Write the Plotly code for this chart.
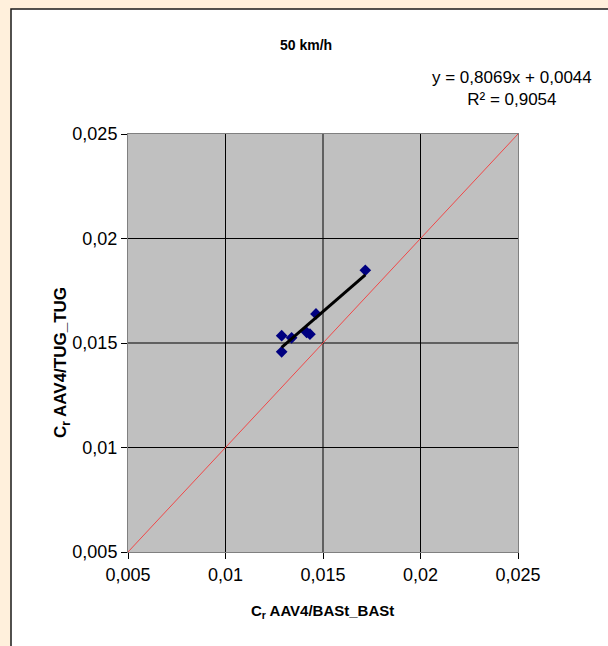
import plotly.graph_objects as go

# Rolling resistance coefficients at 50 km/h
cr_bast = [0.01288, 0.01288, 0.01339, 0.01416, 0.01433, 0.01464, 0.01717]
cr_tug = [0.01535, 0.01458, 0.01525, 0.01551, 0.01542, 0.01639, 0.01848]

# Linear fit reported for the series
slope = 0.8069
intercept = 0.0044
r_squared = 0.9054

# Axis ticks (decimal comma)
tick_vals = [0.005, 0.01, 0.015, 0.02, 0.025]
tick_text = ["0,005", "0,01", "0,015", "0,02", "0,025"]
axis_range = [0.005, 0.025]

W, H = 608, 646
L, R, T, B = 128, 90, 134, 94
PW, PH = W - L - R, H - T - B


def xp(px):
    return (px - L) / PW


def yp(py):
    return (H - B - py) / PH


fit_x = [min(cr_bast), max(cr_bast)]
fit_y = [slope * v + intercept for v in fit_x]

fig = go.Figure()

# 1:1 reference line
fig.add_trace(go.Scatter(
    x=axis_range, y=axis_range, mode="lines",
    line=dict(color="#F04848", width=1), hoverinfo="skip", showlegend=False,
))

fig.add_trace(go.Scatter(
    x=cr_bast, y=cr_tug, mode="markers",
    marker=dict(symbol="diamond", size=9, color="#000080"),
    showlegend=False,
))

fig.add_trace(go.Scatter(
    x=fit_x, y=fit_y, mode="lines",
    line=dict(color="black", width=3), showlegend=False,
))

font = "Liberation Sans, Arial"

axis_common = dict(
    range=axis_range, tickvals=tick_vals, ticktext=tick_text,
    showgrid=False,
    showline=True, linecolor="#808080", linewidth=1, mirror=True,
    ticks="outside", ticklen=6, tickcolor="black", tickwidth=1,
    zeroline=False,
    tickfont=dict(family=font, size=18, color="black"),
)

fig.update_xaxes(**axis_common)
fig.update_yaxes(**axis_common)

shapes = [
    # white chart panel with dark frame
    dict(type="rect", xref="paper", yref="paper", layer="below",
         x0=xp(11), x1=xp(W + 5), y0=yp(H + 5), y1=yp(9),
         fillcolor="white", line=dict(color="#1a1a1a", width=1.5)),
    # grey plot area
    dict(type="rect", xref="paper", yref="paper", layer="below",
         x0=0, x1=1, y0=0, y1=1,
         fillcolor="#C0C0C0", line=dict(width=0)),
]
# black interior gridlines (edges keep the grey frame)
for v in tick_vals[1:-1]:
    shapes.append(dict(type="line", xref="x", yref="paper", layer="below",
                       x0=v, x1=v, y0=0, y1=1,
                       line=dict(color="black", width=1)))
    shapes.append(dict(type="line", xref="paper", yref="y", layer="below",
                       x0=0, x1=1, y0=v, y1=v,
                       line=dict(color="black", width=1)))

fig.update_layout(
    width=W, height=H, autosize=False,
    margin=dict(l=L, r=R, t=T, b=B),
    paper_bgcolor="#FFF0DC",
    plot_bgcolor="#C0C0C0",
    shapes=shapes,
    annotations=[
        dict(text="<b>50 km/h</b>", xref="paper", yref="paper",
             x=xp(306), y=yp(45), xanchor="center", yanchor="middle",
             showarrow=False,
             font=dict(family=font, size=14, color="black")),
        dict(text=f"y = {slope:.4f}x + {intercept:.4f}".replace(".", ",")
             + f"<br>R² = {r_squared:.4f}".replace(".", ","),
             xref="paper", yref="paper", x=xp(512), y=yp(88),
             xanchor="center", yanchor="middle", align="center",
             showarrow=False,
             font=dict(family=font, size=17, color="black")),
        dict(text="<b>C<sub>r</sub> AAV4/BASt_BASt</b>", xref="paper", yref="paper",
             x=xp(322), y=yp(611), xanchor="center", yanchor="middle",
             showarrow=False,
             font=dict(family=font, size=15, color="black")),
        dict(text="<b>C<sub>r</sub> AAV4/TUG_TUG</b>", xref="paper", yref="paper",
             x=xp(62), y=yp(363), xanchor="center", yanchor="middle",
             showarrow=False, textangle=-90,
             font=dict(family=font, size=17, color="black")),
    ],
)

fig.write_html("out.html")
